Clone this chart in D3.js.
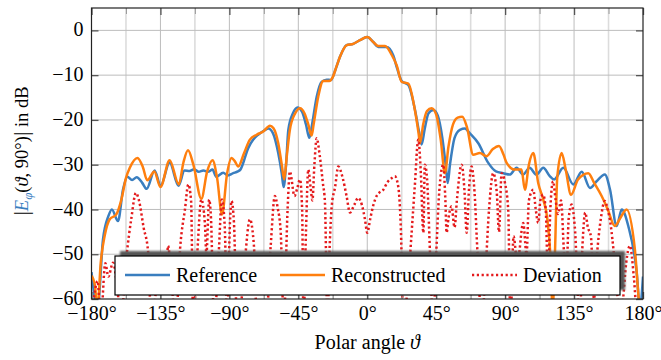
<!DOCTYPE html>
<html>
<head>
<meta charset="utf-8">
<script src="https://cdn.jsdelivr.net/npm/d3@7"></script>
<style>
  body { margin: 0; background: #fff; }
  svg { display: block; }
</style>
</head>
<body>
<div id="chart"></div>
<script>
// angles in degrees, values in dB
const referenceDeg = [-180, -176, -172.5, -169, -166.7, -162.7, -159.4, -156.6, -153.5, -150.5, -147, -144, -138.8, -134.9, -129, -123.2, -119.3, -116, -113, -110, -107, -104, -101, -98.6, -94, -91, -87.5, -84.5, -82.8, -77.7, -74.4, -71.2, -67, -64.6, -61.5, -58.1, -55.8, -54.6, -53, -51.5, -48.5, -45.5, -42.5, -40, -37.8, -36, -33, -29.8, -26.5, -23.7, -21, -17.8, -13.5, -9.1, -4.8, 0, 3.9, 7.2, 12.6, 17, 19.5, 22.5, 26.8, 31, 34, 35.5, 37.5, 40, 43.1, 46, 49, 51.5, 52.5, 54, 57, 60.5, 63.8, 67, 72.5, 79, 84, 88.8, 93, 97.5, 101.7, 106, 110.4, 114.9, 119, 122, 128, 134.5, 140, 145.4, 149.7, 155.1, 158.5, 162.8, 166.1, 170.4, 175.9, 178, 180];
const referenceDb = [-54, -62, -46.7, -41.5, -40, -42.6, -35.5, -32.7, -33.4, -32.8, -34, -35.4, -31.3, -34.7, -29.5, -34.7, -31.3, -31.4, -31, -31.6, -31.3, -31.6, -31.1, -32.7, -31.8, -32.4, -31.9, -31.5, -31.1, -26.3, -24.4, -23.3, -22.3, -21.9, -23, -27.4, -32, -35, -30, -22.2, -18.5, -17.2, -18.2, -21, -24, -21, -14.8, -11.5, -11, -11.1, -9, -5.9, -3.3, -3, -2.2, -1.5, -2.6, -3.7, -3.7, -5.6, -8.5, -11.3, -12.2, -17.5, -23, -25.5, -22, -18.5, -17.8, -19, -24, -31, -34.1, -30, -24, -22.2, -21.9, -23, -25.2, -29.6, -31.5, -31.9, -32.2, -30.7, -32.2, -30.7, -32.2, -30.7, -32.5, -33.3, -30.7, -34.4, -31.6, -35.2, -33.7, -32.2, -35.6, -43.7, -40, -43.7, -54.1, -62, -55];

const reconstructedDeg = [-180, -178, -176, -174, -171.4, -168.1, -163.8, -160.5, -157.5, -155, -150, -146.5, -143.6, -139, -135, -129, -123, -120, -117, -113.5, -108.3, -104.5, -101, -98, -94.8, -91.5, -88.6, -86.5, -84.2, -80.5, -76.6, -72.2, -67.9, -63.5, -61.3, -58.1, -55.8, -54.2, -52.5, -50.5, -47, -43.9, -41, -38.5, -36.3, -35, -32, -28.7, -24.8, -22.6, -20, -17.8, -13.4, -9.1, -4.8, 0, 3.9, 7.2, 11.6, 16, 19.2, 22.5, 26.8, 31.1, 33.5, 34.4, 36.5, 39, 42, 45, 48, 50.7, 53, 56, 59, 62, 65, 69.2, 73.5, 77.8, 82, 86, 89, 91, 96.4, 100.7, 102.9, 105.5, 108.4, 111.6, 114.9, 117.5, 119.5, 121, 122.5, 124, 126.9, 129.5, 133, 137.6, 144.3, 148, 153, 157, 161.6, 165, 169.3, 174.7, 178, 180];
const reconstructedDb = [-54.8, -56.5, -62, -52, -45.9, -42.2, -41.1, -37.8, -33, -30.7, -28.5, -30.5, -33.5, -31.5, -35, -29, -34.4, -29.5, -26.8, -30, -37.6, -31.5, -29, -33, -41.1, -32, -28.5, -29.2, -30.4, -27.5, -24.4, -23.3, -22.6, -21.3, -21.8, -25.2, -30, -33.3, -28, -22.2, -18.5, -17.4, -18.5, -21, -23.5, -21, -14.8, -11.3, -11.3, -10.5, -8, -5.9, -3.3, -3, -2.2, -1.5, -2.6, -3.5, -3.5, -5.5, -7.8, -11.5, -11.9, -17.8, -23, -25.2, -21, -18, -17.4, -18.8, -24.5, -31.9, -26, -21, -19.5, -19.3, -21.5, -27.8, -27.4, -28.1, -26.5, -25.8, -27.8, -29.6, -31.1, -31.1, -35.6, -30, -27.4, -34.1, -37.8, -42, -50, -62, -50, -33, -27.4, -31, -36.7, -33.3, -31.9, -34, -37, -40, -43.7, -42, -40, -48.9, -62, -63];

const deviationDeg = [-180, -176, -174, -171, -169, -166, -163, -161, -157, -154, -151, -149, -146, -143, -141, -137, -133.5, -131.5, -130, -128, -125, -122, -119, -116.8, -115, -113.6, -111, -108.3, -106, -105, -103.2, -102, -100, -97, -94.9, -93, -91.5, -89.5, -88.6, -87, -85, -82, -80, -76.6, -74, -72, -69, -66, -63, -60.3, -58.5, -56.5, -54.5, -52, -50.5, -47.5, -45.5, -43.9, -42.5, -41.6, -40, -38.5, -37, -35.8, -34.5, -33, -31, -29, -27.6, -26, -24.5, -23.2, -21, -18.9, -16, -13.5, -11.3, -8.5, -5.9, -3.5, -1.5, 0, 2, 4, 6.1, 8, 10.5, 13, 16, 18, 20.2, 22, 23.5, 25, 27, 29, 31, 33.3, 35, 36.6, 37.6, 39, 41, 43, 45, 47, 49.6, 51, 51.8, 53, 55, 57, 58.5, 61.6, 63.5, 64.9, 66.5, 68.1, 70, 72, 74.7, 77, 79.5, 82.2, 84.5, 86, 87.7, 89.9, 92, 93.5, 95.5, 98, 101.8, 104, 105.5, 108.4, 110, 111.6, 113, 114.8, 116.5, 118, 119.5, 121.3, 123, 124.5, 126.5, 128.5, 130, 131.5, 133.4, 135.5, 138.7, 140.5, 142.3, 144, 146, 148, 150, 152.5, 155.1, 157, 159, 161, 163, 165, 167, 169, 171.5, 174, 176.5, 180];
const deviationDb = [-65, -56, -65, -52, -55, -51.9, -58, -65, -50, -42, -36.3, -38, -44, -49.6, -65, -56, -50, -56, -48.1, -55, -65, -48, -40, -34.4, -38, -65, -50, -37.8, -43, -50, -37.8, -42, -65, -50, -37.8, -44, -65, -42, -38.1, -43, -65, -60, -52, -42.2, -48, -65, -62, -65, -48, -37, -39.6, -45, -65, -40, -31.5, -37, -35, -33.3, -40, -65, -45, -31.1, -35, -38, -30, -24.1, -28, -34, -38.5, -65, -48, -39.3, -35, -30.4, -33, -37, -40.7, -39, -37.4, -39, -42.2, -45.2, -42, -39, -37, -36.2, -35.6, -34, -33, -32.6, -34.8, -45, -65, -62, -55, -45, -35, -24.4, -32, -45.2, -30, -33, -50, -65, -50, -36, -30, -38, -45.2, -42, -39.3, -44, -38, -30, -36, -45.2, -35, -30.4, -36, -50, -65, -55, -40, -31.9, -36, -45, -31.9, -34.1, -40, -65, -46, -52, -43, -50, -38, -35.6, -40, -43, -38, -36.7, -40, -56, -40, -33.7, -38, -41, -38, -50, -55, -42, -38.9, -44, -65, -48, -40.7, -44, -46, -60, -50, -42, -38.1, -40, -43.7, -50, -58, -65, -60, -52, -48.1, -55, -65, -65];

const seriesNames = ["Reference", "Reconstructed", "Deviation"];
const xTicks = [-180, -135, -90, -45, 0, 45, 90, 135, 180];
const xMinorTicks = [-157.5, -112.5, -67.5, -22.5, 22.5, 67.5, 112.5, 157.5];
const yTicks = [-60, -50, -40, -30, -20, -10, 0];

const W = 661, H = 360;
const plot = { left: 91.5, right: 643, top: 8, bottom: 299 };
const blue = "#3a7ebf", orange = "#ff7f0e", red = "#e41a1c";
const serif = "'Liberation Serif', 'Times New Roman', serif";

const svg = d3.select("#chart").append("svg")
  .attr("width", W).attr("height", H)
  .attr("font-family", serif);

const x = d3.scaleLinear().domain([-180, 180]).range([plot.left, plot.right]);
const y = d3.scaleLinear().domain([-60, 5]).range([plot.bottom, plot.top]);

const fmtDeg = d => (d < 0 ? "\u2212" : "") + Math.abs(d) + "\u00b0";
const fmtNum = d => (d < 0 ? "\u2212" : "") + Math.abs(d);

const defs = svg.append("defs");
defs.append("clipPath").attr("id", "clip")
  .append("rect")
  .attr("x", plot.left).attr("y", plot.top)
  .attr("width", plot.right - plot.left).attr("height", plot.bottom - plot.top);

// grid
const grid = svg.append("g");
grid.selectAll(".vminor").data(xMinorTicks).join("line")
  .attr("x1", d => x(d)).attr("x2", d => x(d))
  .attr("y1", plot.top).attr("y2", plot.bottom)
  .attr("stroke", "#dcdcdc").attr("stroke-width", 1.6);
grid.selectAll(".vmajor").data(xTicks.slice(1, -1)).join("line")
  .attr("x1", d => x(d)).attr("x2", d => x(d))
  .attr("y1", plot.top).attr("y2", plot.bottom)
  .attr("stroke", "#bdbdbd").attr("stroke-width", 1);
grid.selectAll(".hmajor").data(yTicks.slice(1)).join("line")
  .attr("x1", plot.left).attr("x2", plot.right)
  .attr("y1", d => y(d)).attr("y2", d => y(d))
  .attr("stroke", "#bdbdbd").attr("stroke-width", 1);

// curves
const line = d3.line()
  .x(d => x(d[0]))
  .y(d => y(d[1]))
  .curve(d3.curveMonotoneX);

const curves = svg.append("g").attr("clip-path", "url(#clip)");
curves.append("path")
  .datum(d3.zip(referenceDeg, referenceDb))
  .attr("fill", "none").attr("stroke", blue).attr("stroke-width", 2.5)
  .attr("stroke-linejoin", "round")
  .attr("d", line);
curves.append("path")
  .datum(d3.zip(reconstructedDeg, reconstructedDb))
  .attr("fill", "none").attr("stroke", orange).attr("stroke-width", 2.5)
  .attr("stroke-linejoin", "round")
  .attr("d", line);
curves.append("path")
  .datum(d3.zip(deviationDeg, deviationDb))
  .attr("fill", "none").attr("stroke", red).attr("stroke-width", 2.5)
  .attr("stroke-dasharray", "2.2,2.6")
  .attr("d", line);

// axes with inward ticks
function styleAxis(g, color, width) {
  g.attr("font-family", serif).attr("font-size", 20);
  g.select(".domain").remove();
  g.selectAll(".tick line").attr("stroke", color).attr("stroke-width", width);
  g.selectAll("text").attr("fill", "#000");
}

svg.append("g").attr("transform", `translate(0,${plot.bottom})`)
  .call(d3.axisBottom(x).tickValues(xMinorTicks).tickSize(-6).tickFormat(""))
  .call(g => styleAxis(g, "#9a9a9a", 1));
svg.append("g").attr("transform", `translate(0,${plot.top})`)
  .call(d3.axisTop(x).tickValues(xMinorTicks).tickSize(-6).tickFormat(""))
  .call(g => styleAxis(g, "#9a9a9a", 1));
svg.append("g").attr("transform", `translate(0,${plot.bottom})`)
  .call(d3.axisBottom(x).tickValues(xTicks).tickSize(-7).tickPadding(7).tickFormat(fmtDeg))
  .call(g => styleAxis(g, "#555", 1.3));
svg.append("g").attr("transform", `translate(0,${plot.top})`)
  .call(d3.axisTop(x).tickValues(xTicks).tickSize(-7).tickFormat(""))
  .call(g => styleAxis(g, "#555", 1.3));
svg.append("g").attr("transform", `translate(${plot.left},0)`)
  .call(d3.axisLeft(y).tickValues(yTicks).tickSize(-7).tickPadding(8).tickFormat(fmtNum))
  .call(g => styleAxis(g, "#555", 1.3))
  .call(g => g.selectAll("text").attr("dy", "0.28em"));
svg.append("g").attr("transform", `translate(${plot.right},0)`)
  .call(d3.axisRight(y).tickValues(yTicks).tickSize(-7).tickFormat(""))
  .call(g => styleAxis(g, "#555", 1.3));

// frame
svg.append("rect")
  .attr("x", plot.left).attr("y", plot.top)
  .attr("width", plot.right - plot.left).attr("height", plot.bottom - plot.top)
  .attr("fill", "none").attr("stroke", "#222").attr("stroke-width", 1.2);

// legend
defs.append("filter").attr("id", "shadow")
  .append("feGaussianBlur").attr("stdDeviation", 1.2);
const legend = svg.append("g").attr("transform", "translate(115,256)");
legend.append("rect")
  .attr("x", 5).attr("y", -5).attr("width", 505).attr("height", 39)
  .attr("fill", "#555").attr("filter", "url(#shadow)");
legend.append("rect")
  .attr("width", 505).attr("height", 39)
  .attr("fill", "#fff").attr("stroke", "#000").attr("stroke-width", 1.2);

const legendX = [10, 165, 357];
const legendStyle = [
  { color: blue, dash: null },
  { color: orange, dash: null },
  { color: red, dash: "2.2,2.6" }
];
seriesNames.forEach((name, i) => {
  const item = legend.append("g").attr("transform", `translate(${legendX[i]},0)`);
  item.append("line")
    .attr("x1", 0).attr("x2", 45).attr("y1", 19).attr("y2", 19)
    .attr("stroke", legendStyle[i].color)
    .attr("stroke-width", 2.5)
    .attr("stroke-dasharray", legendStyle[i].dash);
  item.append("text")
    .attr("x", 51).attr("y", 26)
    .attr("font-size", 20)
    .text(name);
});

// axis titles
svg.append("text")
  .attr("x", (plot.left + plot.right) / 2).attr("y", 349)
  .attr("text-anchor", "middle")
  .attr("font-size", 20)
  .call(t => {
    t.append("tspan").text("Polar angle ");
    t.append("tspan").attr("font-style", "italic").text("\u03d1");
  });

const ylab = svg.append("text")
  .attr("transform", "translate(28,151) rotate(-90)")
  .attr("text-anchor", "middle")
  .attr("font-size", 18.5);
ylab.append("tspan").attr("font-size", 22).text("|");
ylab.append("tspan").attr("font-style", "italic").attr("fill", blue).text("E");
ylab.append("tspan").attr("font-style", "italic").attr("fill", blue)
  .attr("dy", 4).attr("font-size", 13).text("\u03c6");
ylab.append("tspan").attr("dy", -4).text("(");
ylab.append("tspan").attr("font-style", "italic").text("\u03d1");
ylab.append("tspan").text(", 90\u00b0)");
ylab.append("tspan").attr("font-size", 22).text("|");
ylab.append("tspan").text(" in dB");
</script>
</body>
</html>
